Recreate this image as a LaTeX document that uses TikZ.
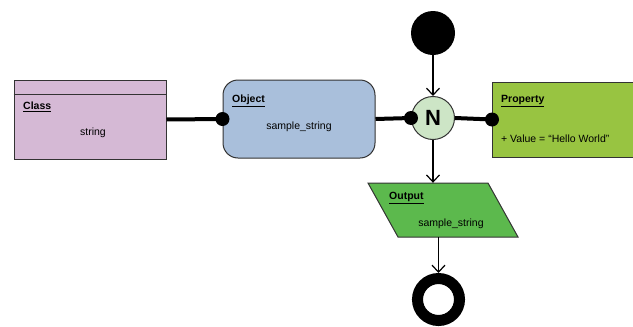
\documentclass[tikz,border=0pt]{standalone}
\usepackage{fontspec}
\setmainfont{Liberation Sans}
\usetikzlibrary{arrows.meta}
\definecolor{clsfill}{HTML}{D5B9D5}
\definecolor{objfill}{HTML}{A9BFDB}
\definecolor{nfill}{HTML}{CDE5C6}
\definecolor{propfill}{HTML}{98C441}
\definecolor{outfill}{HTML}{5CB94D}
\definecolor{edge}{HTML}{333333}
\tikzset{
  box/.style={draw=edge, line width=1pt, inner sep=0pt},
  lbl/.style={anchor=west, inner sep=0pt, font=\fontsize{10.5}{12}\selectfont\bfseries},
  txt/.style={inner sep=0pt, font=\fontsize{10.5}{12}\selectfont},
  thickconn/.style={line width=4pt},
  dotend/.style={circle, fill=black, inner sep=0pt, minimum size=14pt},
  flow/.style={line width=1.2pt, -{Straight Barb[length=7pt,width=13pt,line width=1.2pt]}},
}
\begin{document}
\begin{tikzpicture}[x=1pt,y=-1pt]
\useasboundingbox (0,0) rectangle (633,327);
% Class
\node[box, fill=clsfill, minimum width=152pt, minimum height=79pt] (cls) at (90,119.5) {};
\coordinate (clshl) at ([yshift=-15pt]cls.north west);
\coordinate (clshr) at ([yshift=-15pt]cls.north east);
\draw[edge, line width=1pt] (clshl) -- (clshr);
\node[lbl] (clsl) at (23,107) {\underline{Class}};
\node[txt] (clst) at (93,132.5) {string};
% Object
\node[box, fill=objfill, rounded corners=15pt, minimum width=152pt, minimum height=78pt] (obj) at (299,119) {};
\node[lbl] (objl) at (232,101) {\underline{Object}};
\node[txt] (objt) at (299,127) {sample\_string};
% Property
\node[box, fill=propfill, minimum width=170pt, minimum height=75pt, anchor=west] (prop) at (492,119.5) {};
\node[lbl] (propl) at (501,101) {\underline{Property}};
\node[txt, anchor=west] (propt) at (501,139) {+ Value = “Hello World”};
% Start
\node[circle, fill=black, minimum size=44pt, inner sep=0pt] (start) at (433,33) {};
% N
\node[circle, draw=edge, line width=1pt, fill=nfill, minimum size=43pt, inner sep=0pt,
      font=\fontsize{22}{24}\selectfont\bfseries] (n) at (433,118) {N};
% Output
\coordinate (outtl) at (368,183);
\coordinate (outtr) at (488,183);
\coordinate (outbr) at (518,237);
\coordinate (outbl) at (398,237);
\draw[edge, line width=1pt, fill=outfill] (outtl) -- (outtr) -- (outbr) -- (outbl) -- cycle;
\node[inner sep=0pt, minimum width=120pt, minimum height=54pt] (out) at (443,210) {};
\node[lbl] (outl) at (389,198) {\underline{Output}};
\node[txt] (outt) at (451,223.5) {sample\_string};
% End
\node[circle, draw=black, line width=11pt, minimum size=42pt, inner sep=0pt] (fin) at (438.5,299.5) {};
% connectors
\draw[thickconn] (cls.east) -- (obj.west);
\node[dotend] (d1) at (obj.west) {};
\draw[thickconn] (obj.east) -- (n.west);
\node[dotend] (d2) at (n.west) {};
\draw[thickconn] (n.east) -- (prop.west);
\node[dotend] (d3) at (prop.west) {};
\draw[flow] (start.south) -- (n.north);
\draw[flow] (n.south) -- (n.south |- out.north);
\coordinate (outexit) at (fin.north |- out.south);
\draw[flow] (outexit) -- (fin.north);
\end{tikzpicture}
\end{document}
